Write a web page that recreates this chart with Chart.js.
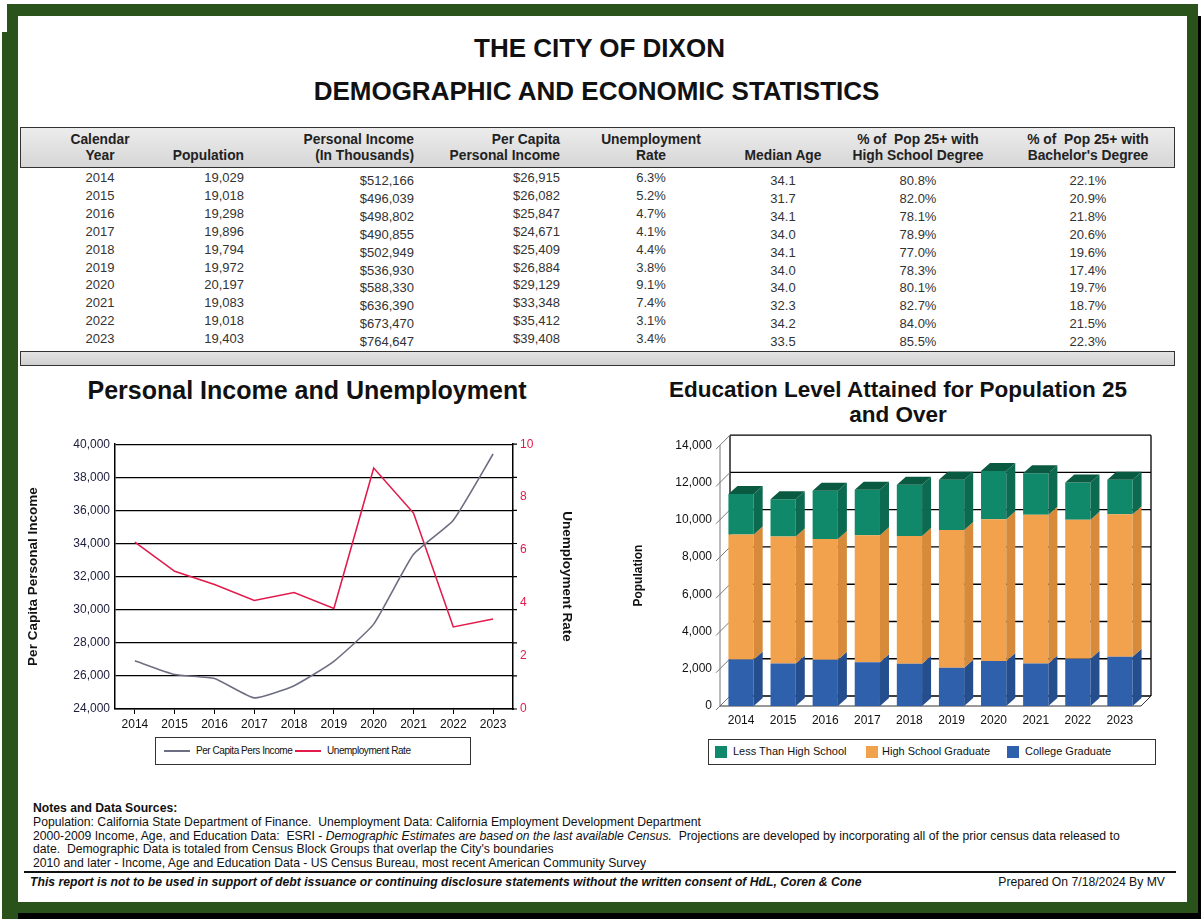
<!DOCTYPE html>
<html>
<head>
<meta charset="utf-8">
<script src="https://cdn.jsdelivr.net/npm/chart.js@4.4.1/dist/chart.umd.min.js"></script>
<style>
html, body { margin: 0; padding: 0; background: #fff; }
body { width: 1201px; height: 919px; position: relative; overflow: hidden; font-family: "Liberation Sans", Arial, sans-serif; color: #111; }
.a { position: absolute; }
.g { position: absolute; background: #29531b; }
.k { position: absolute; background: #000; }
.hd { position: absolute; font-weight: bold; font-size: 13.8px; color: #222; line-height: 16px; white-space: nowrap; }
.cell { position: absolute; font-size: 13px; color: #333; white-space: nowrap; line-height: 14px; }
.note { position: absolute; left: 33px; font-size: 12.2px; white-space: nowrap; line-height: 13px; color: #111; }
.leg { position: absolute; border: 1px solid #333; background: #fff; font-size: 11px; }
.leg span { position: absolute; white-space: nowrap; }
</style>
</head>
<body>

<!-- green frame -->
<div class="g" style="left:7px;top:4px;width:1191px;height:12px"></div>
<div class="g" style="left:7px;top:4px;width:11px;height:915px"></div>
<div class="g" style="left:2px;top:32px;width:6px;height:887px"></div>
<div class="g" style="left:1187px;top:4px;width:11px;height:910px"></div>
<div class="g" style="left:7px;top:902px;width:1191px;height:11px"></div>
<div class="k" style="left:1198px;top:16px;width:3px;height:903px"></div>
<div class="k" style="left:18px;top:913px;width:1183px;height:6px"></div>

<div class="a" style="left:0;width:1199px;top:33px;text-align:center;font-weight:bold;font-size:26px">THE CITY OF DIXON</div>
<div class="a" style="left:0;width:1193px;top:76px;text-align:center;font-weight:bold;font-size:26px">DEMOGRAPHIC AND ECONOMIC STATISTICS</div>

<!-- table frame -->
<div class="a" style="left:20px;top:127px;width:1153px;height:39px;border:1.5px solid #333;background:linear-gradient(#ececec,#d6d6d6)"></div>
<div class="a" style="left:20px;top:351px;width:1153px;height:13px;border:1.5px solid #333;background:linear-gradient(#e4e4e4,#d0d0d0)"></div>
<div id="table"></div>

<!-- charts -->
<div class="a" style="left:20px;width:574px;top:376px;text-align:center;font-weight:bold;font-size:25px">Personal Income and Unemployment</div>
<canvas id="incomeChart" class="a" width="580" height="300" style="left:20px;top:430px"></canvas>
<div class="leg" style="left:155px;top:737px;width:314px;height:26px;font-size:10px;letter-spacing:-0.45px">
  <div class="a" style="left:8px;top:12px;width:26px;height:2px;background:#6e6e82"></div>
  <span style="left:40px;top:7px">Per Capita Pers Income</span>
  <div class="a" style="left:139px;top:12px;width:26px;height:2px;background:#e31b4b"></div>
  <span style="left:171px;top:7px">Unemployment Rate</span>
</div>

<div class="a" style="left:620px;width:556px;top:377px;text-align:center;font-weight:bold;font-size:22.5px;line-height:25px">Education Level Attained for Population 25<br>and Over</div>
<canvas id="eduChart" class="a" width="560" height="300" style="left:620px;top:430px"></canvas>
<div class="leg" style="left:708px;top:739px;width:446px;height:24px">
  <div class="a" style="left:6px;top:6px;width:12px;height:12px;background:#10896a"></div>
  <span style="left:24px;top:5px">Less Than High School</span>
  <div class="a" style="left:157px;top:6px;width:12px;height:12px;background:#f2a24c"></div>
  <span style="left:173px;top:5px">High School Graduate</span>
  <div class="a" style="left:298px;top:6px;width:12px;height:12px;background:#2e60ab"></div>
  <span style="left:316px;top:5px">College Graduate</span>
</div>

<!-- notes -->
<div class="note" style="top:802px;font-weight:bold">Notes and Data Sources:</div>
<div class="note" style="top:816px">Population: California State Department of Finance.&nbsp; Unemployment Data: California Employment Development Department</div>
<div class="note" style="top:830px">2000-2009 Income, Age, and Education Data:&nbsp; ESRI - <i>Demographic Estimates are based on the last available Census.</i>&nbsp; Projections are developed by incorporating all of the prior census data released to</div>
<div class="note" style="top:843px">date.&nbsp; Demographic Data is totaled from Census Block Groups that overlap the City's boundaries</div>
<div class="note" style="top:857px">2010 and later - Income, Age and Education Data - US Census Bureau, most recent American Community Survey</div>
<div class="a" style="left:24px;top:871px;width:1152px;height:1.5px;background:#111"></div>
<div class="note" style="left:30px;top:876px;font-weight:bold;font-style:italic">This report is not to be used in support of debt issuance or continuing disclosure statements without the written consent of HdL, Coren &amp; Cone</div>
<div class="note" style="left:auto;right:36px;top:876px">Prepared On 7/18/2024 By MV</div>

<script>
// table / chart data
const years = ['2014', '2015', '2016', '2017', '2018', '2019', '2020', '2021', '2022', '2023'];
const population = [19029, 19018, 19298, 19896, 19794, 19972, 20197, 19083, 19018, 19403];
const personalIncome = [512166, 496039, 498802, 490855, 502949, 536930, 588330, 636390, 673470, 764647];
const perCapitaIncome = [26915, 26082, 25847, 24671, 25409, 26884, 29129, 33348, 35412, 39408];
const unemploymentRate = [6.3, 5.2, 4.7, 4.1, 4.4, 3.8, 9.1, 7.4, 3.1, 3.4];
const medianAge = [34.1, 31.7, 34.1, 34.0, 34.1, 34.0, 34.0, 32.3, 34.2, 33.5];
const highSchoolPct = [80.8, 82.0, 78.1, 78.9, 77.0, 78.3, 80.1, 82.7, 84.0, 85.5];
const bachelorPct = [22.1, 20.9, 21.8, 20.6, 19.6, 17.4, 19.7, 18.7, 21.5, 22.3];

// education chart
const collegeGrad = [2500, 2280, 2480, 2350, 2270, 2050, 2420, 2280, 2540, 2640];
const highSchoolGrad = [6700, 6820, 6490, 6820, 6860, 7400, 7600, 7980, 7460, 7660];
const lessThanHighSchool = [2180, 2000, 2580, 2440, 2750, 2700, 2590, 2240, 2000, 1840];

const fmtInt = v => v.toLocaleString('en-US');

// ---- table ----
const cols = [
  { head: ['Calendar', 'Year'], x: 100, align: 'center', dy: 0, vals: years },
  { head: ['', 'Population'], x: 244, align: 'right', dy: 0, vals: population.map(fmtInt) },
  { head: ['Personal Income', '(In Thousands)'], x: 414, align: 'right', dy: 3, vals: personalIncome.map(v => '$' + fmtInt(v)) },
  { head: ['Per Capita', 'Personal Income'], x: 560, align: 'right', dy: 0, vals: perCapitaIncome.map(v => '$' + fmtInt(v)) },
  { head: ['Unemployment', 'Rate'], x: 651, align: 'center', dy: 0, vals: unemploymentRate.map(v => v.toFixed(1) + '%') },
  { head: ['', 'Median Age'], x: 783, align: 'center', dy: 3, vals: medianAge.map(v => v.toFixed(1)) },
  { head: ['% of  Pop 25+ with', 'High School Degree'], x: 918, align: 'center', dy: 3, vals: highSchoolPct.map(v => v.toFixed(1) + '%') },
  { head: ['% of  Pop 25+ with', "Bachelor's Degree"], x: 1088, align: 'center', dy: 3, vals: bachelorPct.map(v => v.toFixed(1) + '%') }
];

let html = '';
function place(cls, text, x, y, align) {
  let left = align === 'right' ? x - 200 : x - 100;
  return `<div class="${cls}" style="left:${left}px;top:${y}px;width:200px;text-align:${align};white-space:pre">${text}</div>`;
}
cols.forEach(c => {
  if (c.head[0]) html += place('hd', c.head[0], c.x, 132, c.align);
  html += place('hd', c.head[1], c.x, 148, c.align);
  c.vals.forEach((v, i) => {
    html += place('cell', v, c.x, 171 + i * 17.9 + c.dy, c.align);
  });
});
document.getElementById('table').innerHTML = html;

// ---- charts ----
Chart.defaults.font.family = '"Liberation Sans", Arial, sans-serif';
Chart.defaults.color = '#111';

// the left grid lines poke a little past the right axis
const gridStubs = {
  id: 'gridStubs',
  afterDraw(chart) {
    const { ctx, chartArea: a, scales } = chart;
    ctx.save();
    ctx.strokeStyle = '#000';
    ctx.lineWidth = 1.2;
    ctx.beginPath();
    scales.y.ticks.forEach(t => {
      const py = scales.y.getPixelForValue(t.value);
      ctx.moveTo(a.right, py); ctx.lineTo(a.right + 4, py);
    });
    ctx.stroke();
    ctx.restore();
  }
};

new Chart(document.getElementById('incomeChart'), {
  type: 'line',
  data: {
    labels: years,
    datasets: [
      { label: 'Per Capita Pers Income', data: perCapitaIncome, borderColor: '#6e6e82', borderWidth: 1.6,
        pointRadius: 0, tension: 0.15, yAxisID: 'y' },
      { label: 'Unemployment Rate', data: unemploymentRate, borderColor: '#e31b4b', borderWidth: 1.6,
        pointRadius: 0, tension: 0, yAxisID: 'y1' }
    ]
  },
  options: {
    responsive: false,
    animation: false,
    layout: { padding: { top: 7 } },
    plugins: { legend: { display: false }, tooltip: { enabled: false } },
    scales: {
      x: {
        offset: true,
        grid: { drawOnChartArea: false, tickLength: 5, color: '#000' },
        border: { color: '#000', width: 1.5 },
        ticks: { color: '#111', font: { size: 12 }, padding: 3, maxRotation: 0 },
        afterFit(s) { s.height = 21; }
      },
      y: {
        position: 'left', min: 24000, max: 40000,
        ticks: { stepSize: 2000, color: '#1c1c3c', font: { size: 12 }, padding: 5, callback: v => fmtInt(v) },
        grid: { color: '#000', lineWidth: 1.2, drawTicks: false },
        border: { color: '#000', width: 1.5 },
        title: { display: true, text: 'Per Capita Personal Income', color: '#111', font: { size: 13.5, weight: 'bold' }, padding: { top: 5 } },
        afterFit(s) { s.width = 95; }
      },
      y1: {
        position: 'right', min: 0, max: 10,
        ticks: { stepSize: 2, color: '#e31b4b', font: { size: 12 }, padding: 7 },
        grid: { drawOnChartArea: false, drawTicks: false },
        border: { color: '#000', width: 1.5 },
        title: { display: true, text: 'Unemployment Rate', color: '#111', font: { size: 13.5, weight: 'bold' }, padding: { top: 25 } },
        afterFit(s) { s.width = 87; }
      }
    }
  },
  plugins: [gridStubs]
});

// fake 3D: back wall, left wall, floor and the side/top faces of the bars
const DX = 10, DY = -10, BDX = 9, BDY = -8;
const sideColors = ['#244e8e', '#d68a3a', '#0b6a50'];
const topColor = '#0a5a42';
const threeD = {
  id: 'threeD',
  beforeDatasetsDraw(chart) {
    const { ctx, chartArea: a, scales } = chart;
    const y = scales.y;
    ctx.save();
    ctx.lineWidth = 1.3;
    // back wall grid
    ctx.strokeStyle = '#000';
    y.ticks.forEach(t => {
      const py = y.getPixelForValue(t.value) + DY;
      ctx.beginPath(); ctx.moveTo(a.left + DX, py); ctx.lineTo(a.right + DX, py); ctx.stroke();
    });
    ctx.beginPath();
    ctx.moveTo(a.left + DX, a.top + DY); ctx.lineTo(a.left + DX, a.bottom + DY);
    ctx.moveTo(a.right + DX, a.top + DY); ctx.lineTo(a.right + DX, a.bottom + DY);
    ctx.stroke();
    // left wall
    ctx.strokeStyle = '#777';
    ctx.lineWidth = 1;
    ctx.beginPath();
    ctx.moveTo(a.left, a.top); ctx.lineTo(a.left, a.bottom);
    y.ticks.forEach(t => {
      const py = y.getPixelForValue(t.value);
      ctx.moveTo(a.left - 4, py + 4); ctx.lineTo(a.left + DX, py + DY);
    });
    ctx.stroke();
    // floor
    ctx.strokeStyle = '#333';
    ctx.beginPath();
    ctx.moveTo(a.left, a.bottom); ctx.lineTo(a.right, a.bottom);
    ctx.lineTo(a.right + DX, a.bottom + DY);
    ctx.stroke();
    ctx.restore();
  },
  afterDatasetsDraw(chart) {
    const { ctx } = chart;
    const n = chart.data.datasets.length;
    ctx.save();
    for (let d = 0; d < n; d++) {
      chart.getDatasetMeta(d).data.forEach(bar => {
        const x2 = bar.x + bar.width / 2, x1 = bar.x - bar.width / 2;
        const yt = bar.y, yb = bar.base;
        ctx.fillStyle = sideColors[d];
        ctx.beginPath();
        ctx.moveTo(x2, yt); ctx.lineTo(x2 + BDX, yt + BDY); ctx.lineTo(x2 + BDX, yb + BDY); ctx.lineTo(x2, yb);
        ctx.closePath(); ctx.fill();
        if (d === n - 1) {
          ctx.fillStyle = topColor;
          ctx.beginPath();
          ctx.moveTo(x1, yt); ctx.lineTo(x1 + BDX, yt + BDY); ctx.lineTo(x2 + BDX, yt + BDY); ctx.lineTo(x2, yt);
          ctx.closePath(); ctx.fill();
        }
      });
    }
    ctx.restore();
  }
};

new Chart(document.getElementById('eduChart'), {
  type: 'bar',
  data: {
    labels: years,
    datasets: [
      { label: 'College Graduate', data: collegeGrad, backgroundColor: '#2e60ab' },
      { label: 'High School Graduate', data: highSchoolGrad, backgroundColor: '#f2a24c' },
      { label: 'Less Than High School', data: lessThanHighSchool, backgroundColor: '#10896a' }
    ]
  },
  options: {
    responsive: false,
    animation: false,
    barPercentage: 0.6,
    categoryPercentage: 1,
    layout: { padding: { top: 13, right: 39 } },
    plugins: { legend: { display: false }, tooltip: { enabled: false } },
    scales: {
      x: {
        stacked: true,
        grid: { display: false, drawTicks: false },
        border: { display: false },
        ticks: { color: '#111', font: { size: 12 }, padding: 7, maxRotation: 0 },
        afterFit(s) { s.height = 24; }
      },
      y: {
        stacked: true, min: 0, max: 14000,
        grid: { display: false, drawTicks: false },
        border: { display: false },
        ticks: { stepSize: 2000, color: '#111', font: { size: 12 }, padding: 8, callback: v => fmtInt(v) },
        title: { display: true, text: 'Population', color: '#111', font: { size: 12, weight: 'bold' }, padding: { top: 11 } },
        afterFit(s) { s.width = 100; }
      }
    }
  },
  plugins: [threeD]
});
</script>
</body>
</html>
